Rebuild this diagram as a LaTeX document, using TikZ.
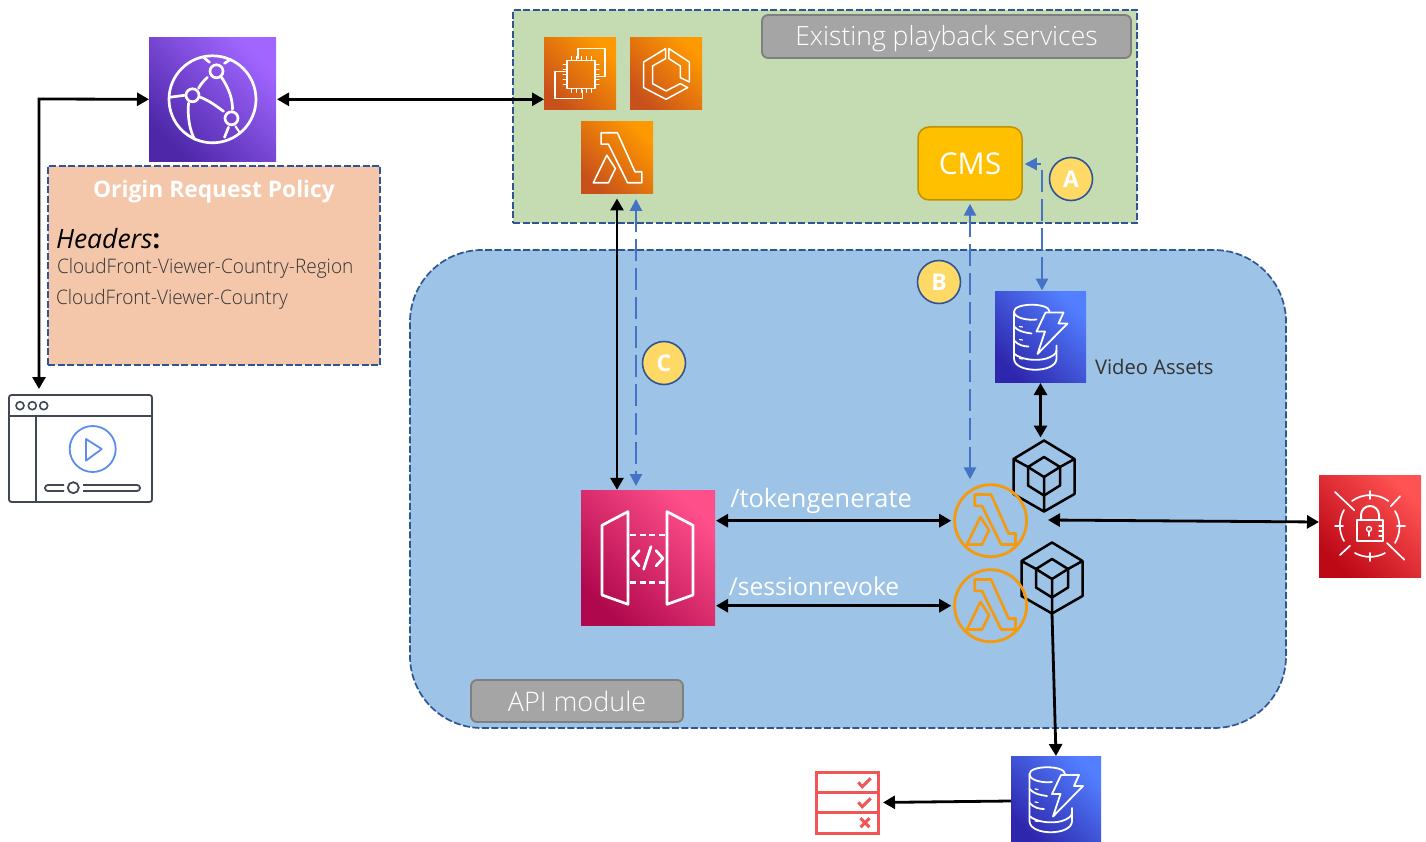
\documentclass[tikz,border=0pt]{standalone}
\usepackage{fontspec}
\setmainfont{Open Sans}
\newfontfamily\lightf{Open Sans Light}
\newfontfamily\lightc[FakeStretch=0.95]{Open Sans Light}
\usetikzlibrary{arrows.meta}
\definecolor{grn}{HTML}{C5DCB3}
\definecolor{blu}{HTML}{9DC3E6}
\definecolor{pch}{HTML}{F4C7AB}
\definecolor{dsh}{HTML}{2F5597}
\definecolor{gry}{HTML}{A5A5A5}
\definecolor{gryb}{HTML}{7F7F7F}
\definecolor{cmsc}{HTML}{FFC000}
\definecolor{cmsb}{HTML}{BF9000}
\definecolor{circ}{HTML}{FFD966}
\definecolor{bdash}{HTML}{4472C4}
\definecolor{slate}{HTML}{3F4854}
\definecolor{play}{HTML}{5B8DEF}
\definecolor{chk}{HTML}{F25555}
\definecolor{lamb}{HTML}{F59A0C}
\definecolor{txtd}{HTML}{333333}
\definecolor{cfa}{HTML}{4D27A8}
\definecolor{cfb}{HTML}{A166FF}
\definecolor{ora}{HTML}{C8511B}
\definecolor{orb}{HTML}{FF9900}
\definecolor{apa}{HTML}{B0084D}
\definecolor{apb}{HTML}{FF4F8B}
\definecolor{dda}{HTML}{2E27AD}
\definecolor{ddb}{HTML}{527FFF}
\definecolor{sca}{HTML}{BD0816}
\definecolor{scb}{HTML}{FF5252}
\tikzset{
 x=1pt,y=-1pt,
 tile/.style n args={4}{rectangle,inner sep=0pt,outer sep=0pt,minimum width=#1pt,minimum height=#2pt,
   bottom color=#3,top color=#4,shading angle=-45},
 cfTile/.style={tile={127}{124}{cfa}{cfb}},
 orTile/.style={tile={72}{72}{ora}{orb}},
 apiTile/.style={tile={134}{135}{apa}{apb}},
 ddbTile/.style n args={2}{tile={#1}{#2}{dda}{ddb}},
 secTile/.style={tile={102}{102}{sca}{scb}},
 region/.style={draw=dsh,line width=1.7pt,dash pattern=on 7pt off 2.5pt,inner sep=0pt},
 graybox/.style={rectangle,rounded corners=6pt,fill=gry,draw=gryb,line width=1.8pt,inner sep=0pt,text=white},
 badge/.style={circle,fill=circ,draw=dsh,line width=1.6pt,minimum size=43pt,inner sep=0pt,text=white,font=\fontsize{23}{25}\selectfont\bfseries},
 lamcirc/.style={circle,draw=lamb,line width=2.8pt,minimum size=72pt,inner sep=0pt},
 anch/.style={inner sep=0pt,outer sep=0pt},
 wl/.style={white,line width=2pt,line join=round,line cap=round},
 bi/.style={{Triangle[length=12pt,width=13pt]}-{Triangle[length=12pt,width=13pt]},line width=2.8pt,black},
 onew/.style={-{Triangle[length=12pt,width=13pt]},line width=2.8pt,black},
 bluebi/.style={{Triangle[length=12pt,width=12pt]}-{Triangle[length=12pt,width=12pt]},line width=2.5pt,bdash,dash pattern=on 22pt off 7pt},
 pics/lambdaglyph/.style={code={
   \draw[#1] (-15.9,-24.7) -- (0.4,-24.7) -- (18,14.3) -- (24.9,14.3) -- (24.9,25.3) -- (10.6,25.3) -- (-8.6,-13.3) -- (-15.9,-13.3) -- cycle;
   \draw[#1] (-10.2,-2.3) -- (-23.7,25.3) -- (-8.6,25.3) -- (-1.6,11) -- cycle;
 }},
 pics/cfglyph/.style={code={
   \draw[wl,line width=2.7pt] (0,0) circle (43.5);
   \draw[wl,line width=2.7pt] (4,-28) circle (6.5) (-20,-4) circle (6.5) (19,19) circle (6.5);
   \draw[wl,line width=2.7pt] (-14,-11) .. controls (-11,-16) .. (-5,-22);
   \draw[wl,line width=2.7pt] (9,-22) .. controls (17,-10) and (20,0) .. (20,10);
   \draw[wl,line width=2.7pt] (-12,-2) .. controls (-2,2) and (4,7) .. (11,12);
   \draw[wl,line width=2.7pt] (-43,-2) -- (-28,-4);
   \draw[wl,line width=2.7pt] (-24,4) .. controls (-25,18) and (-23,30) .. (-18,40);
   \draw[wl,line width=2.7pt] (16,28) -- (12,38);
   \draw[wl,line width=2.7pt] (-9,-42) -- (-3,-37) (12,-36) -- (18,-40);
   \draw[wl,line width=2pt] (23,27) -- (27,33);
 }},
 pics/ec2glyph/.style={code={
   \draw[wl,line width=1.5pt] (-13,-13) rectangle (15,15);
   \draw[wl,line width=1.5pt] (-2,-15) -- (-2,-25) -- (25,-25) -- (25,3) -- (17,3);
   \draw[wl,line width=1.5pt] (-15,-2) -- (-25,-2) -- (-25,25) -- (2.5,25) -- (2.5,17);
   \foreach \i in {-9,-4,1,6,11}{
     \draw[wl,line width=1pt] (\i,-13) -- (\i,-17) (\i,15) -- (\i,19) (-13,\i) -- (-17,\i) (15,\i) -- (19,\i);
   }
 }},
 pics/ecsglyph/.style={code={
   \draw[wl,line width=1.5pt] (-0.4,-24.7) -- (-22.4,-11.3) -- (-22.4,14.3) -- (0,26) -- (21.6,14.3) -- (14.3,10.3) -- (0,17.7) -- (-13.5,10.3) -- (-13.5,-7.3) -- (-0.4,-14.7) -- cycle;
   \draw[wl,line width=1.5pt] (2.9,-24.7) -- (23.3,-11.3) -- (23.3,8.7) -- (14.3,4.3) -- (14.3,-7.3) -- (2.9,-14.7) -- cycle;
 }},
 pics/apiglyph/.style={code={
   \draw[wl,line width=2.7pt] (-20,-46.7) -- (-46,-33) -- (-46,36.7) -- (-20,46) -- cycle;
   \draw[wl,line width=2.7pt] (19,-46.7) -- (45,-33) -- (45,36.7) -- (19,46) -- cycle;
   \draw[wl,line width=2.7pt,line cap=butt,dash pattern=on 6pt off 3.5pt] (-18,-23.3) -- (18,-23.3);
   \draw[wl,line width=2.7pt,line cap=butt,dash pattern=on 6pt off 3.5pt] (-18,24.3) -- (18,24.3);
   \draw[wl,line width=2.7pt] (-8.8,-7.7) -- (-15.5,0) -- (-8.8,7.7);
   \draw[wl,line width=2.7pt] (8,-7.7) -- (15,0) -- (8,7.7);
   \draw[wl,line width=2.7pt] (3,-11.7) -- (-4.4,11);
 }},
 pics/ddbglyph/.style={code={
   \draw[wl,line width=1.8pt] (9,-25) .. controls (9,-34) and (-26.5,-34) .. (-26.5,-25) .. controls (-26.5,-18) and (-12,-16) .. (-4,-17);
   \draw[wl,line width=1.8pt] (-26.5,-25) -- (-26.5,22) .. controls (-26.5,37) and (16,37) .. (16,22) -- (16,9);
   \draw[wl,line width=1.8pt] (-26.5,-10) .. controls (-22,-5) and (-16,-4) .. (-9,-3);
   \draw[wl,line width=1.8pt] (-26.5,4) .. controls (-22,9) and (-16,10) .. (-12,10);
   \draw[wl,line width=1.8pt] (-26.5,17) .. controls (-20,23) and (-5,25) .. (6,22) .. controls (12,20) and (16,17) .. (16,14);
   \draw[wl,line width=1.2pt] (-21,-10) -- (-18,-9.5) (-21,3) -- (-18,3.5) (-21,22) -- (-18,22.5);
   \draw[wl,line width=1.8pt] (5,-24) -- (23,-24) -- (18,-13) -- (27,-13) -- (-3,17.5) -- (4.5,-5) -- (-4,-5) -- cycle;
 }},
 pics/cubeglyph/.style={code={
   \draw[black,line width=2.5pt,line join=round] (0,-35.5) -- (30.5,-17) -- (30.5,18) -- (0,35.5) -- (-30.5,18) -- (-30.5,-17) -- cycle;
   \draw[black,line width=2.5pt,line join=round] (0,-19) -- (16,-9) -- (16,9.5) -- (0,19.5) -- (-16,9.5) -- (-16,-9) -- cycle;
   \draw[black,line width=2.5pt,line join=round] (-16,-9) -- (0,1) -- (16,-9) (0,1) -- (0,35.5);
   \draw[black,line width=2.5pt] (-30.5,-17) -- (-16,-9) (30.5,-17) -- (16,-9);
 }},
 pics/secglyph/.style={code={
   \draw[wl,line width=1.7pt] (-35,-34) -- (-15.7,-15.7) (17,17) -- (34.3,33.7) (20.7,-19.7) -- (30,-29.7) (-30,29) -- (-20,19.7);
   \draw[wl,line width=1.7pt] (-18,-25) arc[start angle=-126,end angle=-54,radius=31];
   \draw[wl,line width=1.7pt] (25,-15) arc[start angle=-31,end angle=31,radius=31];
   \draw[wl,line width=1.7pt] (15,27) arc[start angle=61,end angle=119,radius=31];
   \draw[wl,line width=1.7pt] (-26,15) arc[start angle=150,end angle=210,radius=31];
   \draw[wl,line width=1.7pt] (0,-35) -- (0,-27) (0,27) -- (0,35) (-35,0) -- (-27,0) (27,0) -- (35,0);
   \draw[wl,line width=2pt] (-13.3,-6.3) rectangle (13.3,14.7);
   \draw[wl,line width=2pt] (-9,-6.3) -- (-9,-11) arc[start angle=180,end angle=360,radius=9] -- (9,-6.3);
   \draw[wl,line width=1.3pt] (-1,3) circle (2.5);
   \draw[wl,line width=1.3pt] (-1,5.5) -- (-1,10);
   \draw[wl,line width=1.3pt] (9,0) -- (13,0) (9,5) -- (13,5) (9,10) -- (13,10);
 }},
}
\begin{document}
\begin{tikzpicture}
\useasboundingbox (0,0) rectangle (1426,842);
% regions
\node[region,fill=grn,rectangle,minimum width=624pt,minimum height=213pt] (green) at (825,116.5) {};
\node[region,fill=blu,rectangle,rounded corners=72pt,minimum width=876pt,minimum height=478pt] (blue) at (848,489) {};
\node[region,fill=pch,rectangle,minimum width=332pt,minimum height=199pt] (policy) at (214,265.5) {};
% labels
\node[graybox,minimum width=369pt,minimum height=43pt,font=\lightf\fontsize{26.5}{30}\selectfont] (exist) at (946.5,36.5) {\raisebox{-9.5pt}[0pt][0pt]{Existing playback services}};
\node[graybox,minimum width=212pt,minimum height=42pt,font=\lightf\fontsize{27}{30}\selectfont] (apimod) at (577,701) {API module};
\node[anch,text=white,font=\fontsize{22.8}{26}\selectfont\bfseries] (ptitle) at (214,192) {Origin Request Policy};
\node[anch,anchor=west,font=\fontsize{26.5}{30}\selectfont] (phead) at (56,238.5) {\textit{Headers}\textbf{:}};
\node[anch,anchor=west,text=txtd,font=\lightc\fontsize{20}{24}\selectfont] (pl1) at (57,268) {CloudFront-Viewer-Country-Region};
\node[anch,anchor=west,text=txtd,font=\lightc\fontsize{20}{24}\selectfont] (pl2) at (56,299) {CloudFront-Viewer-Country};
\node[anch,anchor=west,text=txtd,font=\fontsize{20.2}{24}\selectfont] (vatxt) at (1095,367) {Video Assets};
\node[anch,text=white,font=\fontsize{25.4}{28}\selectfont] (ttok) at (821,501) {/tokengenerate};
\node[anch,text=white,font=\fontsize{24.6}{28}\selectfont] (tses) at (814,586) {/sessionrevoke};
% tiles
\node[cfTile] (cf) at (212.5,99.3) {};
\pic at (cf.center) {cfglyph};
\node[orTile] (ec2) at (580,73.3) {};
\pic at (ec2.center) {ec2glyph};
\node[orTile] (ecs) at (666,73.3) {};
\pic at (ecs.center) {ecsglyph};
\node[orTile] (lam) at (617,157.5) {};
\pic at (lam.center) {lambdaglyph={wl,line width=1.6pt}};
\node[rectangle,rounded corners=11pt,fill=cmsc,draw=cmsb,line width=1.5pt,minimum width=104pt,minimum height=73pt,inner sep=0pt,text=white,font=\fontsize{30}{34}\selectfont] (cms) at (970,163.5) {CMS};
\node[ddbTile={91}{91}] (ddb1) at (1040.5,336.5) {};
\pic at (ddb1.center) {ddbglyph};
\node[ddbTile={90}{86}] (ddb2) at (1056,799) {};
\pic at (ddb2.center) {ddbglyph};
\node[apiTile] (api) at (648,558.3) {};
\pic at (api.center) {apiglyph};
\node[secTile] (sec) at (1370,526) {};
\pic at (sec.center) {secglyph};
% lambda circles + layers
\node[anch,minimum width=61pt,minimum height=71pt] (cube1) at (1044,476) {};
\pic at (cube1.center) {cubeglyph};
\node[anch,minimum width=61pt,minimum height=71pt] (cube2) at (1052,578) {};
\pic at (cube2.center) {cubeglyph};
\node[lamcirc] (lc1) at (990.6,520.7) {};
\pic at ([yshift=1.5pt]lc1.center) {lambdaglyph={lamb,line width=2.6pt,line join=round}};
\node[lamcirc] (lc2) at (990.6,605.7) {};
\pic at ([yshift=1.5pt]lc2.center) {lambdaglyph={lamb,line width=2.6pt,line join=round}};
% browser
\node[anch,rectangle,draw=slate,line width=1.8pt,rounded corners=2.5pt,minimum width=143pt,minimum height=107pt] (browser) at (80.5,448.5) {};
\draw[slate,line width=1.8pt] (9,415.7) -- (152,415.7);
\draw[slate,line width=1.8pt] (35.7,415.7) -- (35.7,502);
\draw[slate,line width=1.6pt] (20,405.7) circle (4) (32.3,405.7) circle (4) (43.7,405.7) circle (4);
\draw[play,line width=1.8pt] (92.7,449) circle (23);
\draw[play,line width=1.8pt,line join=round] (86,439) -- (101.7,449) -- (86,460.7) -- cycle;
\draw[slate,line width=1.8pt,rounded corners=3pt] (64,485) -- (45,485) -- (45,491) -- (64,491);
\draw[slate,line width=1.8pt,rounded corners=3pt] (83,485) -- (140,485) -- (140,491) -- (83,491);
\draw[slate,line width=1.8pt] (73.3,487.7) circle (5.5);
% checklist
\node[anch,rectangle,draw=chk,line width=3pt,minimum width=62pt,minimum height=61pt] (check) at (847,802.5) {};
\draw[chk,line width=3pt] (816,792.3) -- (878,792.3) (816,812.7) -- (878,812.7);
\draw[chk,line width=3pt] (858.3,782.3) -- (862.3,786.7) -- (870.7,778.3) (858.3,802.3) -- (862.3,806.7) -- (870.7,798.3);
\draw[chk,line width=3pt] (860.5,818.2) -- (869.5,827.2) (869.5,818.2) -- (860.5,827.2);
% badges
\node[badge] (ba) at (1071,179) {A};
\node[badge] (bb) at (939,282) {B};
\node[badge] (bc) at (664,363) {C};
% named free ends
\coordinate (vcorner) at (39,99);
\coordinate (acorner) at (1042,164);
\coordinate (ctop) at (636,199);
\coordinate (cbot) at (636,486);
\coordinate (secl) at (1048,520);
\coordinate (secr) at (1319,522);
% connectors
\draw[bi,shorten >=6pt] (cf.west) -- (vcorner) -- (vcorner |- browser.north);
\draw[bi,shorten <=1pt] (cf.east) -- (cf.east -| ec2.west);
\draw[bi,shorten <=5pt,shorten >=1pt] (lam.south) -- (lam.south |- api.north);
\draw[bluebi] (ctop) -- (cbot);
\draw[bluebi,shorten <=3pt,shorten >=4pt] (cms.south) -- (cms.south |- lc1.north);
\draw[bluebi,shorten <=0.5pt,shorten >=2pt] (acorner |- ddb1.north) -- (acorner) -- (acorner -| cms.east);
\draw[bi,shorten <=1pt,shorten >=2pt] (lc1.west -| api.east) -- (lc1.west);
\draw[bi,shorten <=1pt,shorten >=2pt] (lc2.west -| api.east) -- (lc2.west);
\draw[bi,shorten <=1pt,shorten >=3pt] (ddb1.south) -- (ddb1.south |- cube1.north);
\draw[bi] (secl) -- (secr);
\draw[onew] (cube2.south) -- (ddb2.north);
\draw[onew,shorten >=5pt] ([yshift=-2pt]ddb2.west) -- (check.east);
\end{tikzpicture}
\end{document}
